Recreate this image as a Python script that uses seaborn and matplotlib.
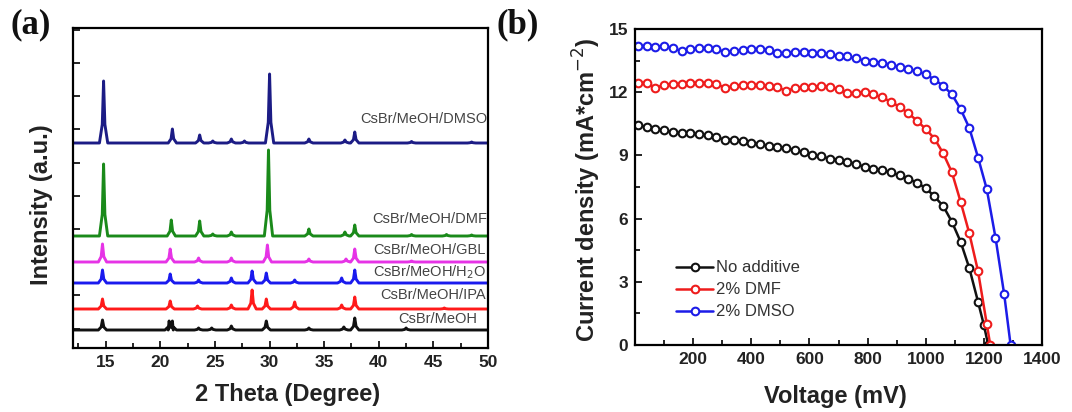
import numpy as np
import pandas as pd
import matplotlib
matplotlib.use("Agg")
import matplotlib.pyplot as plt
import seaborn as sns

sns.set_theme(style="white")
plt.rcParams['font.family'] = ['Liberation Sans', 'DejaVu Sans']

# ---------------- Panel (a): XRD patterns ----------------
samples = ["CsBr/MeOH", "CsBr/MeOH/IPA", "CsBr/MeOH/H$_2$O",
           "CsBr/MeOH/GBL", "CsBr/MeOH/DMF", "CsBr/MeOH/DMSO"]
colors_a = ["#111111", "#ff1a1a", "#1a1aee", "#e633e6", "#1a8a1a", "#1c1c85"]
offsets = [18, 39, 65, 86, 112, 205]   # vertical stacking offsets (a.u.)

meoh_pos = [14.7, 20.8, 21.1, 23.5, 24.7, 26.5, 29.7, 33.6, 36.8, 37.8, 42.5]
meoh_h   = [10, 9, 9, 2, 2, 4, 9, 2, 3, 12, 2]
ipa_pos  = [14.7, 20.9, 23.4, 26.5, 28.4, 29.7, 32.3, 36.6, 37.8, 46.0]
ipa_h    = [10, 8, 3, 4, 19, 10, 7, 4, 12, 1]
h2o_pos  = [14.7, 20.9, 23.5, 26.5, 28.4, 29.7, 32.3, 36.6, 37.8]
h2o_h    = [13, 9, 3, 5, 12, 10, 3, 5, 13]
gbl_pos  = [14.7, 20.9, 23.5, 26.5, 29.8, 33.6, 37.0, 37.8, 43.0]
gbl_h    = [18, 13, 4, 4, 17, 3, 3, 13, 1]
dmf_pos  = [14.8, 21.0, 23.6, 24.8, 26.5, 29.9, 33.6, 36.9, 37.8, 43.0, 46.2, 48.5]
dmf_h    = [72, 16, 15, 2, 4, 86, 7, 4, 11, 1.5, 1.5, 1]
dmso_pos = [14.8, 21.1, 23.6, 24.8, 26.5, 27.7, 30.0, 33.6, 36.9, 37.8, 43.0, 48.5]
dmso_h   = [62, 14, 8, 2, 4, 2, 69, 4, 3, 11, 1.5, 1]

peak_pos = [meoh_pos, ipa_pos, h2o_pos, gbl_pos, dmf_pos, dmso_pos]
peak_h = [meoh_h, ipa_h, h2o_h, gbl_h, dmf_h, dmso_h]
label_y = [29, 53, 76, 98, 129, 229]
label_x = [49.0, 49.8, 49.8, 49.8, 49.9, 49.9]

# peak outline: (offset in degrees, fraction of peak height)
shape_dx = [-0.38, -0.12, 0.0, 0.12, 0.38]
shape_fr = [0.0, 0.3, 1.0, 0.3, 0.0]
rows = []
for name, off, pos, hts in zip(samples, offsets, peak_pos, peak_h):
    pts = [(12.0, off)]
    for p, h in zip(pos, hts):
        for dx, fr in zip(shape_dx, shape_fr):
            pts.append((p + dx, off + fr * h))
    pts.append((50.0, off))
    pts.sort(key=lambda t: t[0])
    for k, (xx, yy) in enumerate(pts):
        rows.append((name, xx, yy, k))
xrd = pd.DataFrame(rows, columns=["sample", "two_theta", "intensity", "order"])

# ---------------- Panel (b): J-V curves ----------------
v_black = [10, 40, 70, 100, 130, 160, 190, 220, 250, 280, 310, 340, 370, 400, 430,
           460, 490, 520, 550, 580, 610, 640, 670, 700, 730, 760, 790, 820, 850, 880,
           910, 940, 970, 1000, 1030, 1060, 1090, 1120, 1150, 1180, 1200, 1215]
j_black = [10.45, 10.35, 10.25, 10.2, 10.1, 10.05, 10.05, 10.0, 9.95, 9.85, 9.75, 9.75,
           9.7, 9.6, 9.55, 9.45, 9.4, 9.35, 9.25, 9.15, 9.0, 8.95, 8.85, 8.8, 8.7, 8.6,
           8.45, 8.35, 8.3, 8.2, 8.05, 7.9, 7.7, 7.45, 7.05, 6.6, 5.85, 4.9, 3.65, 2.05,
           0.95, 0.0]
v_red = [10, 40, 70, 100, 130, 160, 190, 220, 250, 280, 310, 340, 370, 400, 430,
         460, 490, 520, 550, 580, 610, 640, 670, 700, 730, 760, 790, 820, 850, 880,
         910, 940, 970, 1000, 1030, 1060, 1090, 1120, 1150, 1180, 1210, 1222]
j_red = [12.45, 12.45, 12.2, 12.35, 12.4, 12.4, 12.45, 12.45, 12.45, 12.4, 12.2, 12.3,
         12.35, 12.35, 12.35, 12.3, 12.25, 12.05, 12.2, 12.25, 12.25, 12.3, 12.25, 12.15,
         11.95, 11.95, 12.0, 11.9, 11.75, 11.55, 11.3, 11.0, 10.65, 10.25, 9.8, 9.1,
         8.2, 6.8, 5.3, 3.5, 1.0, 0.0]
v_blue = [10, 40, 70, 100, 130, 160, 190, 220, 250, 280, 310, 340, 370, 400, 430,
          460, 490, 520, 550, 580, 610, 640, 670, 700, 730, 760, 790, 820, 850, 880,
          910, 940, 970, 1000, 1030, 1060, 1090, 1120, 1150, 1180, 1210, 1240, 1270, 1292]
j_blue = [14.2, 14.2, 14.15, 14.2, 14.1, 13.95, 14.05, 14.1, 14.1, 14.05, 13.9, 13.95,
          14.0, 14.05, 14.05, 14.0, 13.85, 13.85, 13.9, 13.9, 13.85, 13.85, 13.8, 13.7,
          13.7, 13.6, 13.5, 13.45, 13.4, 13.3, 13.2, 13.1, 13.0, 12.85, 12.6, 12.3,
          11.9, 11.2, 10.3, 8.9, 7.4, 5.1, 2.4, 0.0]
jv_labels = ["No additive", "2% DMF", "2% DMSO"]
colors_b = ["#111111", "#ee1c1c", "#1c1ce8"]

# ---------------- Figure ----------------
fig = plt.figure(figsize=(10.72, 4.12), dpi=100)
axa = fig.add_axes([73 / 1072, 64 / 412, 415 / 1072, 320 / 412])
axb = fig.add_axes([635 / 1072, 67 / 412, 407 / 1072, 316 / 412])

sns.lineplot(data=xrd, x="two_theta", y="intensity", hue="sample", units="sample",
             hue_order=samples, palette=colors_a, sort=False, estimator=None,
             linewidth=2.1, legend=False, ax=axa)
for name, c, lx, ly in zip(samples, colors_a, label_x, label_y):
    axa.text(lx, ly, name, ha="right", va="center", fontsize=10.5, color="#444444")

axa.set_xlim(12, 50)
axa.set_ylim(0, 320)
axa.set_xticks(np.arange(15, 51, 5))
axa.set_xticks(np.arange(12.5, 50, 2.5), minor=True)
axa.set_yticks(np.arange(19.5, 320, 33.2))
axa.set_yticklabels([])
axa.set_xlabel("")
axa.set_ylabel("")

for v, j, lab, c in zip([v_black, v_red, v_blue], [j_black, j_red, j_blue], jv_labels, colors_b):
    sns.lineplot(x=v, y=j, color=c, linewidth=1.8, marker="o", markersize=5.5,
                 markerfacecolor="white", markeredgecolor=c, markeredgewidth=1.5,
                 label=lab, sort=False, estimator=None, ax=axb)
axb.set_xlim(0, 1400)
axb.set_ylim(0, 15)
axb.set_xticks(np.arange(200, 1401, 200))
axb.set_xticks(np.arange(100, 1400, 100), minor=True)
axb.set_yticks(np.arange(0, 16, 3))
axb.set_yticks(np.arange(1.5, 15, 3), minor=True)
axb.set_xlabel("")
axb.set_ylabel("")
leg = axb.legend(loc="lower left", bbox_to_anchor=(0.085, 0.06), frameon=False,
                 fontsize=12, handlelength=2.2, handletextpad=0.2, labelspacing=0.42,
                 borderaxespad=0, numpoints=1)
for t in leg.get_texts():
    t.set_color("#333333")

for ax in (axa, axb):
    for s in ax.spines.values():
        s.set_visible(True)
        s.set_color("black")
        s.set_linewidth(1.6)
    ax.tick_params(which="both", direction="in", left=True, bottom=True,
                   top=False, right=False, width=1.2, colors="black")
    ax.tick_params(which="major", length=5)
    ax.tick_params(which="minor", length=3.5)
    ax.tick_params(axis="both", labelsize=12.5, labelcolor="#222222", pad=5)
    for lbl in ax.get_xticklabels() + ax.get_yticklabels():
        lbl.set_fontweight("bold")

lab_kw = dict(fontsize=17, fontweight="bold", color="#222222", ha="center", va="center")
fig.text(288 / 1072, 1 - 394 / 412, "2 Theta (Degree)", **lab_kw)
fig.text(42 / 1072, 1 - 205 / 412, "Intensity (a.u.)", rotation=90, **lab_kw)
fig.text(835 / 1072, 1 - 397 / 412, "Voltage (mV)", **lab_kw)
fig.text(587 / 1072, 1 - 190 / 412, "Current density (mA*cm$^{-2}$)", rotation=90, **lab_kw)

panel_kw = dict(fontsize=25, fontweight="bold", family="Liberation Serif",
                color="#111111", ha="left", va="center")
fig.text(10 / 1072, 1 - 25 / 412, "(a)", **panel_kw)
fig.text(497 / 1072, 1 - 25 / 412, "(b)", **panel_kw)

fig.savefig("out.png", dpi=100)
